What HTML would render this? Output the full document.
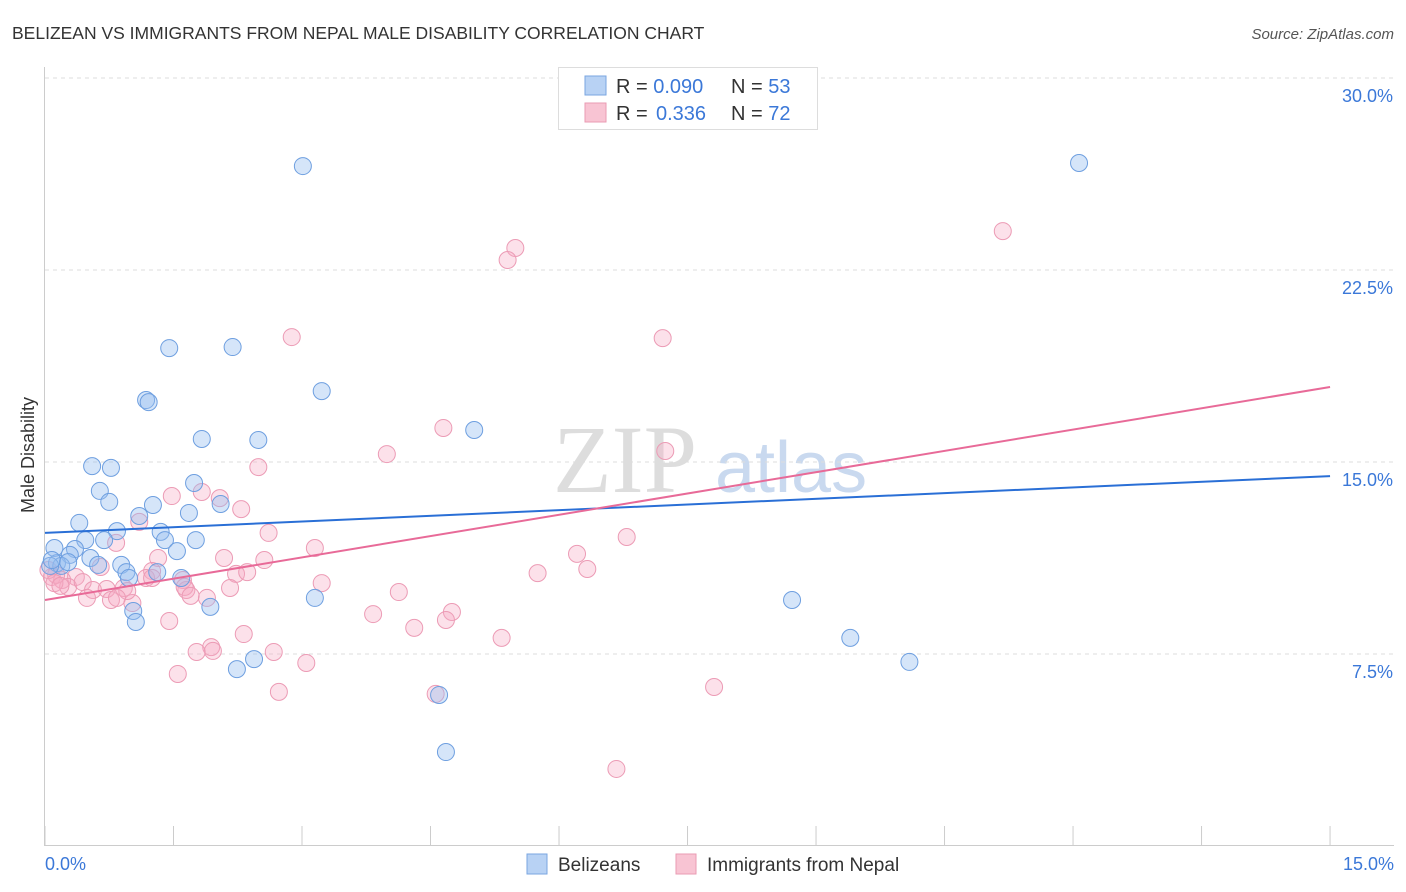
<!DOCTYPE html>
<html><head><meta charset="utf-8"><style>
body{margin:0;background:#fff;font-family:"Liberation Sans",sans-serif;}
svg{display:block}
</style></head><body>
<svg id="chart" width="1406" height="892">
<text x="12" y="39" font-size="17.5" fill="#333">BELIZEAN VS IMMIGRANTS FROM NEPAL MALE DISABILITY CORRELATION CHART</text>
<text x="1394" y="39" font-size="15" fill="#555" font-style="italic" text-anchor="end">Source: ZipAtlas.com</text>
<text x="34" y="455" font-size="18" fill="#333" transform="rotate(-90 34 455)" text-anchor="middle">Male Disability</text>
<g><text x="553" y="492" font-size="96" font-family="Liberation Serif,serif" fill="#ddd">ZIP</text><text x="715" y="492" font-size="72" fill="#c9d9ef">atlas</text></g>
<g id="grid"></g><g id="axes"></g><g id="pts"></g><g id="trend"></g>
<g>
<rect x="558.5" y="67.5" width="259" height="62" fill="#fff" stroke="#ddd"/>
<rect x="585" y="76" width="21" height="19" fill="#b8d2f4" stroke="#7aa6e0"/>
<rect x="585" y="103" width="21" height="19" fill="#f8c4d3" stroke="#ea9bb3"/>
<text x="616" y="93" font-size="20" fill="#333">R = <tspan fill="#3b78d8">0.090</tspan><tspan x="731">N = </tspan><tspan fill="#3b78d8">53</tspan></text>
<text x="616" y="120" font-size="20" fill="#333">R = <tspan x="656" fill="#3b78d8">0.336</tspan><tspan x="731">N = </tspan><tspan fill="#3b78d8">72</tspan></text>
</g>
<g>
<rect x="527" y="854" width="20" height="20" fill="#b8d2f4" stroke="#7aa6e0"/>
<text x="558" y="871" font-size="19" fill="#333">Belizeans</text>
<rect x="676" y="854" width="20" height="20" fill="#f8c4d3" stroke="#ea9bb3"/>
<text x="707" y="871" font-size="19" fill="#333">Immigrants from Nepal</text>
</g>
</svg>
<script>
const yTicks=[7.5,15,22.5,30];
const yTickLabels=["7.5%","15.0%","22.5%","30.0%"];
const blueX=[3.01,12.07,1.45,2.19,1.18,1.21,3.23,1.83,2.49,5.01,0.55,0.77,0.64,0.75,1.26,2.05,1.74,0.40,1.10,1.68,1.35,0.84,0.47,0.69,1.40,1.76,0.11,0.35,1.54,0.29,0.53,0.14,0.19,0.06,0.89,0.62,0.95,0.98,1.59,1.31,3.15,8.72,1.03,1.06,1.93,9.40,10.09,2.44,2.24,4.60,4.68,0.08,0.27];
const blueY=[26.56,26.68,19.45,19.49,17.42,17.34,17.77,15.90,15.86,16.25,14.84,14.77,13.87,13.44,13.32,13.36,14.18,12.62,12.89,13.01,12.27,12.30,11.95,11.95,11.95,11.95,11.64,11.60,11.52,11.37,11.25,11.05,10.94,10.94,10.98,10.98,10.70,10.47,10.47,10.70,9.69,9.61,9.18,8.75,9.34,8.13,7.19,7.30,6.91,5.90,3.67,11.17,11.09];
const pinkX=[11.18,5.49,5.40,2.88,7.21,4.65,3.99,7.24,2.49,1.48,1.83,2.04,2.29,1.10,0.83,2.61,6.79,3.15,6.21,6.33,5.75,1.32,2.09,2.56,2.23,2.36,1.25,1.61,1.18,0.65,0.36,0.08,0.20,0.27,0.44,0.56,0.72,0.92,2.16,1.65,1.63,1.89,1.70,0.49,0.77,1.02,3.23,4.13,3.83,4.75,4.68,4.31,1.45,2.32,1.94,1.96,1.77,2.67,3.05,5.33,1.55,2.73,4.56,7.81,6.67,0.13,0.04,0.11,0.18,0.96,0.84,1.25];
const pinkY=[24.02,23.36,22.89,19.88,19.84,16.33,15.31,15.43,14.80,13.67,13.83,13.59,13.16,12.66,11.84,12.23,12.07,11.64,11.41,10.82,10.66,11.25,11.25,11.17,10.63,10.70,10.74,10.39,10.47,10.90,10.51,10.51,10.39,10.12,10.31,10.00,10.04,10.08,10.08,10.00,10.12,9.69,9.77,9.69,9.61,9.49,10.27,9.92,9.06,9.14,8.83,8.52,8.79,8.28,7.77,7.62,7.58,7.58,7.15,8.13,6.72,6.02,5.94,6.21,3.01,10.59,10.78,10.27,10.16,9.96,9.69,10.47];
const blueTrend=[12.23,14.45];
const pinkTrend=[9.61,17.93];
const X=v=>45+v*85.67, Y=v=>846-v*25.6;
const NS="http://www.w3.org/2000/svg";
function mk(tag,attrs,parent){const e=document.createElementNS(NS,tag);for(const k in attrs)e.setAttribute(k,attrs[k]);document.getElementById(parent).appendChild(e);return e;}
yTicks.forEach((t,i)=>{
 const l=mk('line',{x1:45,x2:1394,y1:Y(t),y2:Y(t),stroke:'#ddd','stroke-dasharray':'4,4'},'grid');
 
 
 const tx=mk('text',{x:1393,y:Y(t)+24,'text-anchor':'end','font-size':18,fill:'#3b78d8'},'grid');
 tx.textContent=yTickLabels[i];
 
 
});
const ax=mk('line',{x1:45,x2:1394,y1:845.5,y2:845.5,stroke:'#ccc'},'axes');


const ay=mk('line',{x1:44.5,x2:44.5,y1:67,y2:846,stroke:'#ccc'},'axes');


for(let i=0;i<=10;i++){const v=i*1.5;
 const t=mk('line',{x1:X(v),x2:X(v),y1:826,y2:846,stroke:'#ccc'},'axes');
 
 }
[[0,"0.0%","start",45],[15,"15.0%","end",1394]].forEach(a=>{
 const t=mk('text',{x:a[3],y:870,'text-anchor':a[2],'font-size':18,fill:'#3b78d8'},'axes');t.textContent=a[1];
 
 });
pinkX.forEach((v,i)=>{const c=mk('circle',{cx:X(v),cy:Y(pinkY[i]),r:8.5,fill:'rgba(245,170,195,0.35)',stroke:'#ec9bb5','stroke-width':1},'pts');
 
 });
blueX.forEach((v,i)=>{const c=mk('circle',{cx:X(v),cy:Y(blueY[i]),r:8.5,fill:'rgba(150,190,240,0.4)',stroke:'#6e9fe0','stroke-width':1},'pts');
 
 });
const bt=mk('line',{x1:X(0),x2:X(15),y1:Y(blueTrend[0]),y2:Y(blueTrend[1]),stroke:'#2a6fd6','stroke-width':2},'trend');


const pt=mk('line',{x1:X(0),x2:X(15),y1:Y(pinkTrend[0]),y2:Y(pinkTrend[1]),stroke:'#e86a98','stroke-width':2},'trend');


</script>
</body></html>
